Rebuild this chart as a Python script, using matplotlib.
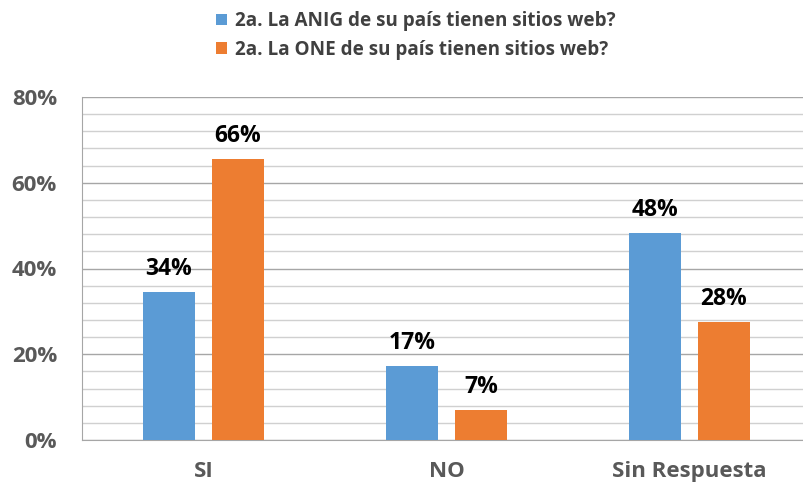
import numpy as np
import matplotlib.pyplot as plt
from matplotlib.ticker import MultipleLocator, FuncFormatter

categories = ['SI', 'NO', 'Sin Respuesta']
anig = [34.5, 17.2, 48.3]   # 2a. La ANIG de su país tienen sitios web?
one = [65.5, 6.9, 27.6]     # 2a. La ONE de su país tienen sitios web?
series_names = ['2a. La ANIG de su país tienen sitios web?',
                '2a. La ONE de su país tienen sitios web?']

blue = '#5B9BD5'
orange = '#ED7D31'
plt.rcParams['font.family'] = ['Open Sans', 'DejaVu Sans']
plt.rcParams['font.weight'] = 'bold'

fig = plt.figure(figsize=(8.04, 4.87), dpi=100)
ax = fig.add_axes([82/804, 1 - 440/487, 729/804, 343/487])

x = np.arange(len(categories))
w = 0.218
off = 0.142
b1 = ax.bar(x - off, anig, w, color=blue, label=series_names[0], zorder=3)
b2 = ax.bar(x + off, one, w, color=orange, label=series_names[1], zorder=3)

for bars, vals in [(b1, anig), (b2, one)]:
    for bar, v in zip(bars, vals):
        ax.annotate(f'{v:.0f}%', (bar.get_x() + bar.get_width()/2, v),
                    xytext=(0, 8), textcoords='offset points',
                    ha='center', va='bottom', fontsize=16.5, fontweight='bold',
                    color='black')

ax.set_xlim(-0.5, 2.5)
ax.set_ylim(0, 80)
ax.yaxis.set_major_locator(MultipleLocator(20))
ax.yaxis.set_minor_locator(MultipleLocator(4))
ax.yaxis.set_major_formatter(FuncFormatter(lambda v, p: f'{v:.0f}%'))
ax.grid(axis='y', which='major', color='#A6A6A6', linewidth=1.0, zorder=0)
ax.grid(axis='y', which='minor', color='#D0D0D0', linewidth=1.0, zorder=0)
ax.set_axisbelow(True)

ax.set_xticks(x)
ax.set_xticklabels(categories)
ax.tick_params(axis='x', length=0, pad=15, labelsize=16, labelcolor='#595959')
ax.tick_params(axis='y', which='both', length=0, pad=18, labelsize=16,
               labelcolor='#595959')
for lbl in ax.get_xticklabels() + ax.get_yticklabels():
    lbl.set_fontweight('bold')

for s in ['top', 'right']:
    ax.spines[s].set_visible(False)
ax.spines['left'].set_color('#A6A6A6')
ax.spines['bottom'].set_color('#A6A6A6')

leg = fig.legend(handles=[b1, b2], loc='upper center', bbox_to_anchor=(0.517, 1.012),
                 ncol=1, frameon=False, handlelength=0.6,
                 handleheight=0.6, handletextpad=0.4, labelspacing=0.45,
                 prop={'weight': 'bold', 'size': 13.6})
for t in leg.get_texts():
    t.set_color('#404040')

fig.savefig('out.png', dpi=100)
